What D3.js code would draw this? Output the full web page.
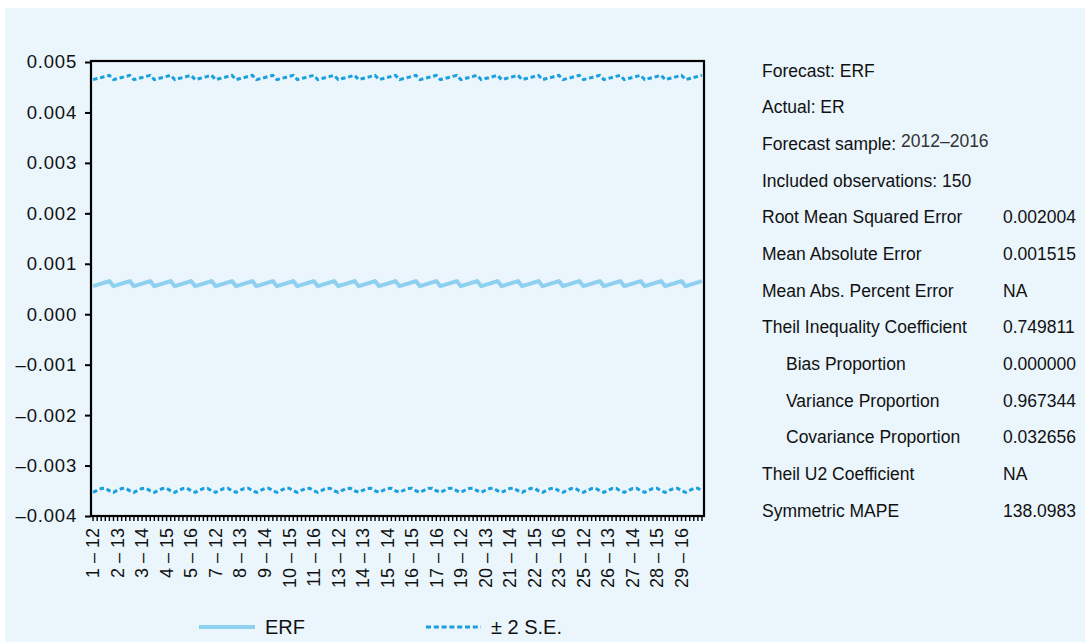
<!DOCTYPE html>
<html>
<head>
<meta charset="utf-8">
<script src="https://cdn.jsdelivr.net/npm/d3@7"></script>
<style>
  html, body { margin: 0; padding: 0; background: #ffffff; }
  svg { display: block; font-family: "Liberation Sans", Arial, sans-serif; }
</style>
</head>
<body>
<svg id="chart" width="1090" height="642"></svg>
<script>
// ---------- DATA ----------
const crossSections = [1,2,3,4,5,6,7,8,9,10,11,12,13,14,15,16,17,18,19,20,21,22,23,24,25,26,27,28,29,30];
const periods = ["12", "13", "14", "15", "16"];
// forecast (ERF) per period, identical for every cross-section
const erfByPeriod   = [0.000556, 0.000582, 0.000606, 0.000632, 0.000658];
// +2 S.E. and -2 S.E. bands per period
const upperByPeriod = [0.004650, 0.004672, 0.004692, 0.004714, 0.004736];
const lowerByPeriod = [-0.003530, -0.003490, -0.003455, -0.003450, -0.003500];
const yTickValues = [-0.004, -0.003, -0.002, -0.001, 0, 0.001, 0.002, 0.003, 0.004, 0.005];
const legendLabels = ["ERF", "\u00B1 2 S.E."];
const statsRows = [
  {label: "Forecast: ERF", value: "", indent: false},
  {label: "Actual: ER", value: "", indent: false},
  {label: "Forecast sample: ", extra: "2012\u20132016", value: "", indent: false},
  {label: "Included observations: 150", value: "", indent: false},
  {label: "Root Mean Squared Error", value: "0.002004", indent: false},
  {label: "Mean Absolute Error", value: "0.001515", indent: false},
  {label: "Mean Abs. Percent Error", value: "NA", indent: false},
  {label: "Theil Inequality Coefficient", value: "0.749811", indent: false},
  {label: "Bias Proportion", value: "0.000000", indent: true},
  {label: "Variance Proportion", value: "0.967344", indent: true},
  {label: "Covariance Proportion", value: "0.032656", indent: true},
  {label: "Theil U2 Coefficient", value: "NA", indent: false},
  {label: "Symmetric MAPE", value: "138.0983", indent: false}
];

// ---------- BUILD ----------
const obs = crossSections.flatMap(c => periods.map((p, j) => ({
  label: c + " \u2013 " + p,
  erf: erfByPeriod[j],
  upper: upperByPeriod[j],
  lower: lowerByPeriod[j]
})));

const svg = d3.select("#chart");
const colERF = "#8ed0f0";
const colSE = "#1aa0dc";

svg.append("rect").attr("x", 5).attr("y", 8).attr("width", 1080).attr("height", 634)
  .attr("fill", "#eaf5fc");

const pLeft = 91, pRight = 704, pTop = 62, pBottom = 516;

const x = d3.scaleBand().domain(obs.map(d => d.label)).range([pLeft, pRight]).padding(0);
const y = d3.scaleLinear().domain([-0.004, 0.005]).range([pBottom, pTop]);
const cx = d => x(d.label) + x.bandwidth() / 2;

// Y axis
const yAxis = d3.axisLeft(y).tickValues(yTickValues).tickSize(6).tickPadding(8)
  .tickFormat(d => d3.format(".3f")(d).replace("\u2212", "\u2013").replace("-", "\u2013"));
const gy = svg.append("g").attr("transform", `translate(${pLeft},0)`).call(yAxis);
gy.select(".domain").remove();
gy.selectAll(".tick line").attr("stroke", "#000").attr("stroke-width", 2);
gy.selectAll(".tick text").attr("font-size", "18.5px").attr("fill", "#111")
  .attr("font-family", "'Liberation Sans', Arial, sans-serif").style("letter-spacing", "0.8px");

// X axis
const xAxis = d3.axisBottom(x).tickSize(5).tickFormat((d, i) => i % 6 === 0 ? d : "");
const gx = svg.append("g").attr("transform", `translate(0,${pBottom})`).call(xAxis);
gx.select(".domain").remove();
gx.selectAll(".tick line").attr("stroke", "#000").attr("stroke-width", 1.4);
gx.selectAll(".tick text")
  .attr("font-size", "18px").attr("fill", "#111")
  .attr("font-family", "'Liberation Sans', Arial, sans-serif")
  .attr("transform", "rotate(-90)")
  .attr("text-anchor", "end")
  .attr("x", -12).attr("y", 0).attr("dy", "0.35em");

// lines
const lineOf = key => d3.line().x(cx).y(d => y(d[key]));
svg.append("path").datum(obs).attr("d", lineOf("erf"))
  .attr("fill", "none").attr("stroke", colERF).attr("stroke-width", 4).attr("stroke-linejoin", "round");
svg.append("path").datum(obs).attr("d", lineOf("upper"))
  .attr("fill", "none").attr("stroke", colSE).attr("stroke-width", 3).attr("stroke-dasharray", "4.5,2.8");
svg.append("path").datum(obs).attr("d", lineOf("lower"))
  .attr("fill", "none").attr("stroke", colSE).attr("stroke-width", 3).attr("stroke-dasharray", "4.5,2.8");

// frame
svg.append("rect").attr("x", pLeft).attr("y", pTop - 1).attr("width", pRight - pLeft).attr("height", pBottom - pTop + 1)
  .attr("fill", "none").attr("stroke", "#000").attr("stroke-width", 2.2);

// legend
const lg = svg.append("g");
lg.append("line").attr("x1", 199).attr("x2", 255).attr("y1", 627).attr("y2", 627)
  .attr("stroke", colERF).attr("stroke-width", 4);
lg.append("text").attr("x", 265).attr("y", 634).attr("font-size", "20px").attr("fill", "#111").text(legendLabels[0]);
lg.append("line").attr("x1", 426).attr("x2", 481).attr("y1", 627).attr("y2", 627)
  .attr("stroke", colSE).attr("stroke-width", 3).attr("stroke-dasharray", "5,2.8");
lg.append("text").attr("x", 491).attr("y", 634).attr("font-size", "20px").attr("fill", "#111").text(legendLabels[1]);

// stats panel
const sp = svg.append("g").attr("font-size", "17.5px").attr("fill", "#111");
statsRows.forEach((r, i) => {
  const by = 76.5 + i * 36.67;
  sp.append("text").attr("x", r.indent ? 786 : 762).attr("y", by).text(r.label);
  if (r.extra) {
    sp.append("text").attr("x", 901).attr("y", by - 2.5).attr("font-size", "17.5px")
      .attr("fill", "#333").text(r.extra);
  }
  if (r.value) sp.append("text").attr("x", 1003).attr("y", by).text(r.value);
});
</script>
</body>
</html>
